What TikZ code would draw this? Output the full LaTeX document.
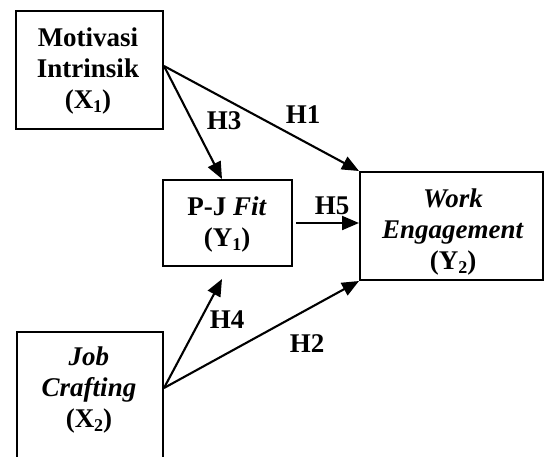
\documentclass[tikz,border=0pt]{standalone}
\usepackage{fontspec}
\setmainfont{Liberation Serif}
\usetikzlibrary{arrows.meta,fit}
\newcommand\subidx[1]{\raisebox{-4pt}{\fontsize{18}{18}\selectfont #1}}
\begin{document}
\begin{tikzpicture}[x=1pt,y=-1pt,
  box/.style={draw,line width=2pt,inner sep=0pt},
  txt/.style={font=\bfseries\fontsize{27}{31}\selectfont,align=center,inner sep=0pt},
  hyp/.style={font=\bfseries\fontsize{27}{31}\selectfont,inner sep=0pt},
  arr/.style={line width=2.1pt,-{Triangle[length=17pt,width=14pt]}}]
\useasboundingbox (0,0) rectangle (544,456);
\clip (0,0) rectangle (544,456);
% boxes
\node[box,fit={(16,11) (163,129)}] (X1) {};
\node[box,fit={(163,180) (292,266)}] (Y1) {};
\node[box,fit={(360,172) (543,280)}] (Y2) {};
\node[box,fit={(17,332) (163,470)}] (X2) {};
% texts
\node[txt] (tX1) at (88,71) {Motivasi\\Intrinsik\\(X\subidx{1})};
\node[txt] (tY1) at (227,225) {P-J \textit{Fit}\\(Y\subidx{1})};
\node[txt] (tY2) at (453,232) {\textit{Work}\\\textit{Engagement}\\(Y\subidx{2})};
\node[txt] (tX2) at (89,390) {\textit{Job}\\\textit{Crafting}\\(X\subidx{2})};
% connectors
\draw[arr] ([yshift=4pt]X1.east) -- (Y2.north west);
\draw[arr] ([yshift=4pt]X1.east) -- ([xshift=-5.5pt]Y1.north);
\draw[arr] ([xshift=3pt]Y1.east) -- (Y2.west |- Y1.east);
\draw[arr] ([yshift=13pt]X2.east) -- ([xshift=-5.5pt,yshift=-12pt]Y1.south);
\draw[arr] ([yshift=13pt]X2.east) -- (Y2.south west);
% labels
\node[hyp] (h1) at (303,115) {H1};
\node[hyp] (h3) at (224,121) {H3};
\node[hyp] (h5) at (332,206) {H5};
\node[hyp] (h4) at (227,320) {H4};
\node[hyp] (h2) at (307,344) {H2};
\end{tikzpicture}
\end{document}
